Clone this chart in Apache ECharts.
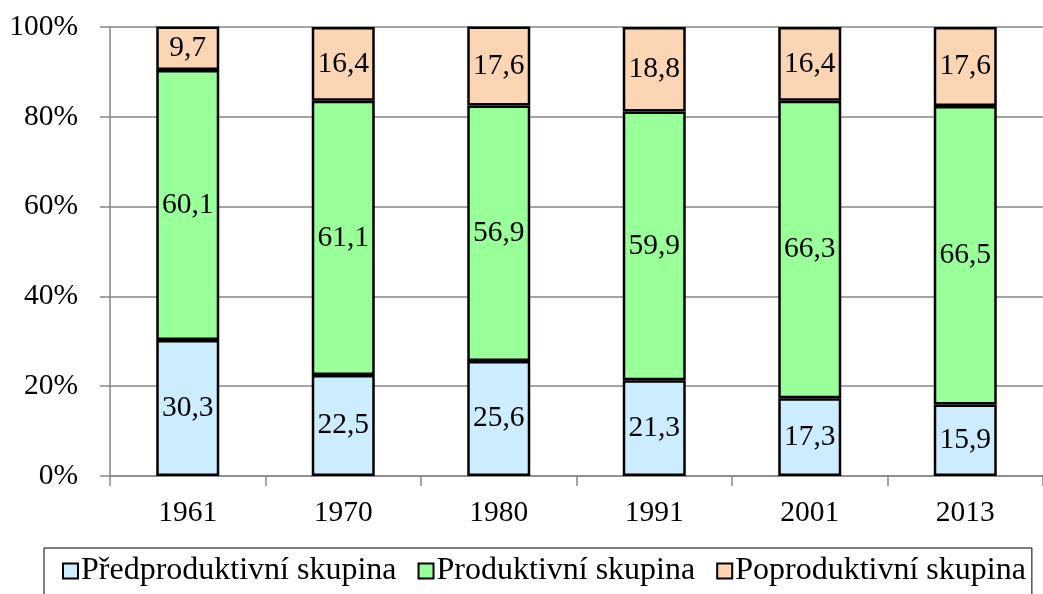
<!DOCTYPE html>
<html>
<head>
<meta charset="utf-8">
<script src="https://cdn.jsdelivr.net/npm/echarts@6/dist/echarts.min.js"></script>
<style>
html,body{margin:0;padding:0;background:#fff;overflow:hidden;}
#chart{width:1043px;height:594px;}
</style>
</head>
<body>
<div id="chart"></div>
<script>
var categories = ['1961', '1970', '1980', '1991', '2001', '2013'];
var predproduktivni = [30.3, 22.5, 25.6, 21.3, 17.3, 15.9];
var produktivni = [60.1, 61.1, 56.9, 59.9, 66.3, 66.5];
var poproduktivni = [9.7, 16.4, 17.6, 18.8, 16.4, 17.6];
var seriesNames = ['Předproduktivní skupina', 'Produktivní skupina', 'Poproduktivní skupina'];
var yTicks = [0, 20, 40, 60, 80, 100];

var font = 'Liberation Serif';
var fs = 29.5;
function fmt(p) { return String(p.value).replace('.', ','); }

function mk(name, data, color) {
  return {
    name: name,
    type: 'bar',
    stack: 'total',
    data: data,
    barWidth: 63,
    clip: false,
    itemStyle: { color: color, borderColor: '#000', borderWidth: 2.5 },
    label: {
      show: true, position: 'inside', formatter: fmt,
      color: '#000', fontFamily: font, fontSize: fs
    }
  };
}

var chart = echarts.init(document.getElementById('chart'));
chart.setOption({
  animation: false,
  backgroundColor: '#fff',
  grid: { left: 110, right: -14, top: 27, bottom: 118, containLabel: false },
  legend: {
    left: 44, top: 548,
    padding: [7, 6, 14, 18],
    itemGap: 21,
    itemWidth: 15, itemHeight: 15,
    borderColor: '#000', borderWidth: 1,
    icon: 'rect',
    itemStyle: { borderColor: '#000', borderWidth: 2 },
    textStyle: { fontFamily: font, fontSize: 32, color: '#000', padding: [0, 0, 0, -2] },
    data: seriesNames
  },
  xAxis: {
    type: 'category',
    data: categories,
    axisLine: { lineStyle: { color: '#868686', width: 1.5 } },
    axisTick: { show: true, length: 10, lineStyle: { color: '#868686', width: 1.5 } },
    axisLabel: { fontFamily: font, fontSize: fs, color: '#000', margin: 22 }
  },
  yAxis: {
    type: 'value',
    min: yTicks[0], max: yTicks[yTicks.length - 1], interval: 20,
    axisLine: { show: true, lineStyle: { color: '#868686', width: 1.5 } },
    axisTick: { show: true, length: 10, lineStyle: { color: '#868686', width: 1.5 } },
    axisLabel: { fontFamily: font, fontSize: fs, color: '#000', margin: 32, formatter: '{value}%' },
    splitLine: { show: true, lineStyle: { color: '#868686', width: 1.5 } }
  },
  series: [
    mk(seriesNames[0], predproduktivni, '#CCECFF'),
    mk(seriesNames[1], produktivni, '#99FF99'),
    mk(seriesNames[2], poproduktivni, '#FCD5B5')
  ]
});
</script>
</body>
</html>
